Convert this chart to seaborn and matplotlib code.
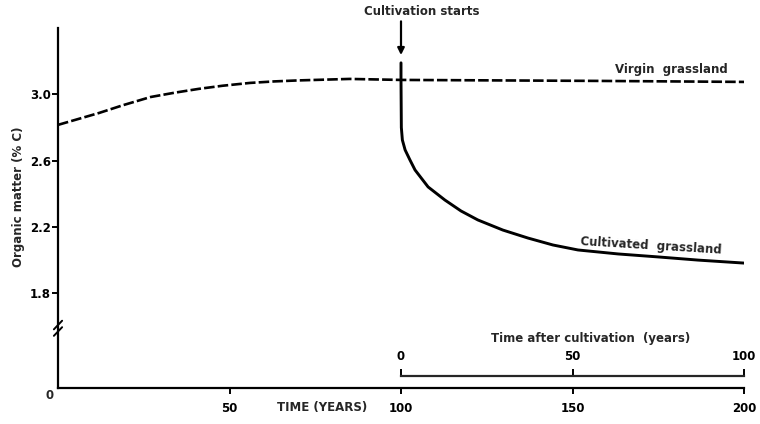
import matplotlib
matplotlib.use("Agg")
import matplotlib.pyplot as plt
import pandas as pd
import seaborn as sns

# ---- data ----
years_virgin = [0, 6, 12, 19, 27, 34, 41, 48, 56, 63, 70, 85, 100, 129, 158, 200]
om_virgin = [2.816, 2.852, 2.888, 2.935, 2.984, 3.010, 3.033, 3.052, 3.069, 3.078,
             3.084, 3.093, 3.087, 3.084, 3.081, 3.075]

years_cult = [100, 100, 100.1, 100.4, 101.2, 102.6, 104.1, 107.9, 112.8, 117.5, 122.4,
              129.7, 137.0, 144.3, 151.6, 163.3, 175.0, 186.6, 200]
om_cult = [3.19, 3.09, 2.80, 2.725, 2.665, 2.605, 2.544, 2.442, 2.363, 2.297, 2.243,
           2.182, 2.134, 2.092, 2.062, 2.038, 2.020, 2.001, 1.983]

x_ticks = [50, 100, 150, 200]
y_ticks = [1.8, 2.2, 2.6, 3.0]
y_tick_labels = ["1.8", "2.2", "2.6", "3.0"]
after_ticks = [0, 50, 100]

df_v = pd.DataFrame({"year": years_virgin, "om": om_virgin})
df_c = pd.DataFrame({"year": years_cult, "om": om_cult})

sns.set_style("ticks")
plt.rcParams["font.family"] = ["DejaVu Sans"]
plt.rcParams["font.weight"] = "bold"

fig = plt.figure(figsize=(7.6, 4.24), dpi=100)
ax = fig.add_axes([58 / 760, 1 - 388 / 424, 686 / 760, 360 / 424])

sns.lineplot(data=df_v, x="year", y="om", ax=ax, color="black", lw=1.9,
             linestyle=(0, (4, 1.2)), estimator=None, sort=False)
sns.lineplot(data=df_c, x="year", y="om", ax=ax, color="black", lw=2.1,
             estimator=None, sort=False)

ax.set_xlim(0, 200)
ax.set_ylim(1.23, 3.40)
for s in ["top", "right"]:
    ax.spines[s].set_visible(False)
for s in ["left", "bottom"]:
    ax.spines[s].set_linewidth(1.6)
    ax.spines[s].set_color("black")

ax.set_xticks(x_ticks)
ax.set_xticklabels([str(t) for t in x_ticks])
ax.set_yticks(y_ticks)
ax.set_yticklabels(y_tick_labels)
ax.tick_params(axis="x", direction="out", length=4, width=1.4, pad=6,
               labelsize=8.5, colors="black")
ax.tick_params(axis="y", direction="out", length=4, width=1.4, pad=1,
               labelsize=8.5, colors="black")
for lab in ax.get_xticklabels() + ax.get_yticklabels():
    lab.set_fontweight("bold")

ax.set_xlabel("TIME (YEARS)", fontsize=8.5, fontweight="bold")
ax.xaxis.set_label_coords(0.385, -0.035)
ax.set_ylabel("Organic matter (% C)", fontsize=8.5, fontweight="bold")
ax.yaxis.set_label_coords(-0.048, 0.53)

ax.text(-0.012, -0.02, "0", transform=ax.transAxes, ha="center", va="center",
        fontsize=8.5, fontweight="bold")

# axis break marks
for dy in (-0.009, 0.009):
    yb = (1.59 - 1.23) / (3.40 - 1.23) + dy
    ax.plot([-0.006, 0.006], [yb - 0.012, yb + 0.012], transform=ax.transAxes,
            color="black", lw=1.4, clip_on=False)

# secondary scale: time after cultivation
sec = ax.secondary_xaxis((388 - 376) / 360, functions=(lambda x: x - 100, lambda x: x + 100))
sec.set_alignment("top")
sec.set_xticks(after_ticks)
sec.set_xticklabels([str(t) for t in after_ticks])
sec.spines["top"].set_bounds(0, 100)
sec.spines["top"].set_linewidth(1.6)
sec.tick_params(axis="x", direction="out", length=5, width=1.4, pad=4,
                labelsize=8.5, colors="black")
for lab in sec.get_xticklabels():
    lab.set_fontweight("bold")
sec.set_xlabel("Time after cultivation  (years)", fontsize=8.5, fontweight="bold",
               labelpad=6)
sec.xaxis.label.set_x(0.777)

# annotations
ax.annotate("", xy=(100, 3.237), xytext=(100, 3.44), annotation_clip=False,
            arrowprops=dict(arrowstyle="-|>", color="black", lw=1.6,
                            shrinkA=0, shrinkB=0, mutation_scale=10))
ax.text(106, 3.50, "Cultivation starts", ha="center", va="center",
        fontsize=8.5, fontweight="bold", clip_on=False)
ax.text(178.7, 3.15, "Virgin  grassland", ha="center", va="center",
        fontsize=8.5, fontweight="bold")
ax.text(172.9, 2.085, "Cultivated  grassland", ha="center", va="center",
        fontsize=8.5, fontweight="bold", rotation=-3.5)

fig.savefig("out.png", dpi=100)
